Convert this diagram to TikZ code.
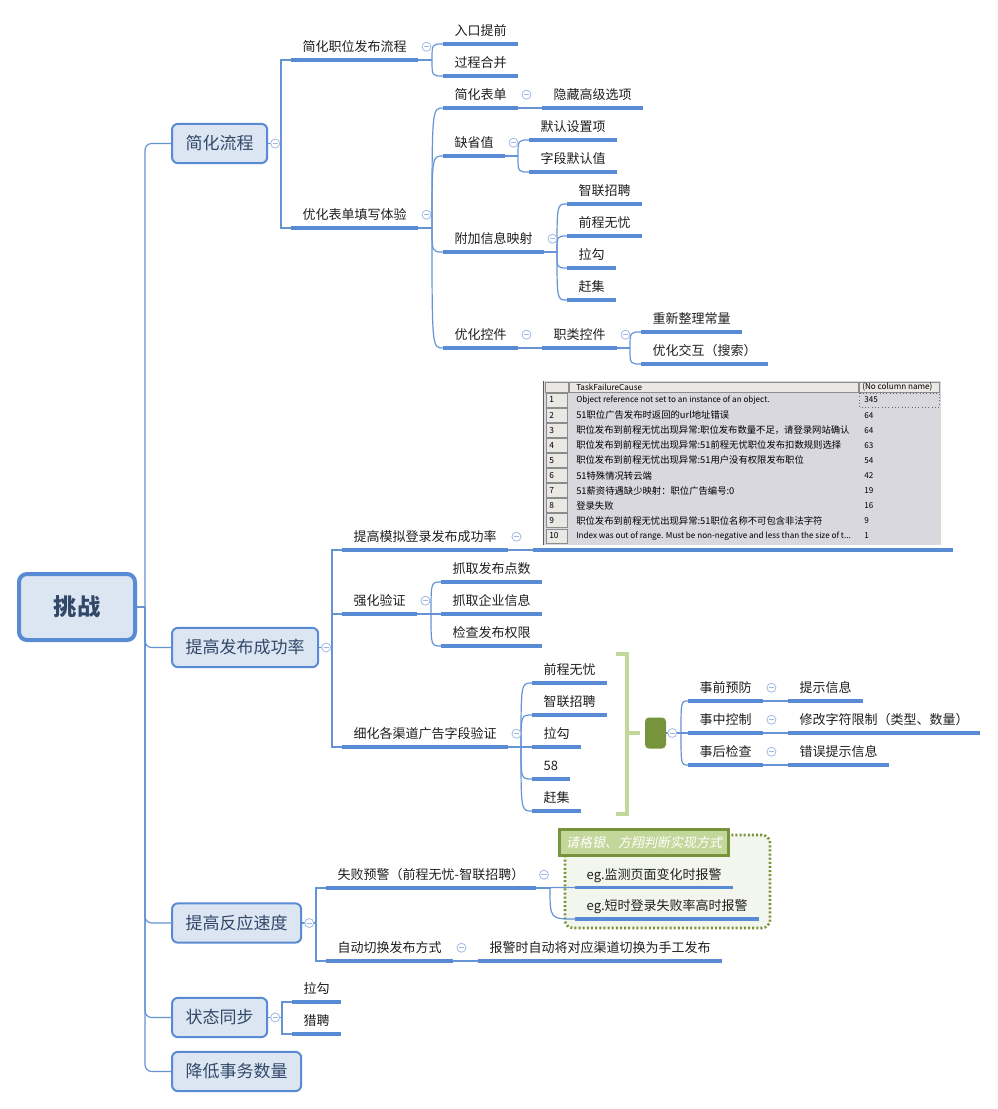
\documentclass[tikz,border=0pt]{standalone}
\usepackage{fontspec}
\setmainfont{Noto Sans CJK SC}
\newfontfamily\slfont[FakeSlant=0.2]{Noto Sans CJK SC}
\usetikzlibrary{calc}
\definecolor{linecol}{RGB}{88,139,212}
\definecolor{conncol}{RGB}{100,148,214}
\definecolor{boxfill}{RGB}{220,230,242}
\definecolor{maintext}{RGB}{50,72,105}
\definecolor{foldcol}{RGB}{160,185,230}
\definecolor{olive}{RGB}{119,147,60}
\definecolor{lolive}{RGB}{196,215,155}
\definecolor{bfill}{RGB}{243,246,236}
\definecolor{tabbg}{RGB}{216,216,222}
\definecolor{cellbg}{RGB}{234,232,228}
\newcommand\brc[2]{\draw[conn] (#1) .. controls (#1 |- #2.south west) .. (#2.south west);}
\begin{document}
\begin{tikzpicture}[x=0.75pt,y=-0.75pt,
  conn/.style={draw=conncol, line width=0.9pt},
  uline/.style={draw=linecol, line width=2.4pt},
  sub/.style={anchor=south west, inner xsep=8.6pt, inner ysep=4.875pt, text height=8.6pt, text depth=1.15pt, font=\fontsize{9.75pt}{12pt}\selectfont, text={black!88}},
  mainbox/.style={anchor=west, draw=linecol, line width=1.5pt, fill=boxfill, rounded corners=4.5pt, inner xsep=10.2pt, inner ysep=0pt, minimum height=29.5pt, text height=11.2pt, text depth=1.55pt, font=\fontsize{12.75pt}{15pt}\selectfont, text=maintext},
  rootbox/.style={draw=linecol, line width=3pt, fill=boxfill, rounded corners=6pt, minimum width=87pt, minimum height=49.5pt, font=\fontsize{17.5pt}{20pt}\selectfont\bfseries, text=maintext},
  fold/.style={circle, draw=foldcol, fill=white, line width=0.6pt, minimum size=6.75pt, inner sep=0pt, path picture={\draw[foldcol, line width=0.6pt] ($(path picture bounding box.center)+(-2.7,0)$) -- ($(path picture bounding box.center)+(2.7,0)$);}},
  sumbox/.style={fill=olive, rounded corners=3pt, minimum width=15.75pt, minimum height=23.25pt, inner sep=0pt},
  brk/.style={draw=lolive, line width=3.4pt},
  bound/.style={draw=olive, fill=bfill, line width=1.9pt, dash pattern=on 1.5pt off 1.6pt, rounded corners=6pt},
  blabel/.style={draw=olive, fill=lolive, line width=2.2pt, minimum width=127pt, minimum height=20pt, inner sep=0pt, text=white, font=\fontsize{9.75pt}{12pt}\slfont},
  tabcjk/.style={anchor=west, inner sep=0pt, font=\fontsize{7pt}{8pt}\selectfont},
  tablat/.style={anchor=west, inner sep=0pt, font=\fontsize{6.1pt}{8pt}\selectfont},
  tabcell/.style={draw=gray!90, line width=0.5pt, fill=cellbg}
]
\useasboundingbox (0,0) rectangle (997,1109);
\fill[white] (0,0) rectangle (997,1109);

% ---------- boundary (behind) ----------
\draw[bound] (565,835) rectangle (770,928);

% ---------- root & main topics ----------
\node[rootbox] (root) at (77,607) {挑战};
\node[mainbox] (t1) at (171,143.5) {简化流程};
\node[mainbox] (t2) at (171,647.5) {提高发布成功率};
\node[mainbox] (t3) at (171,923) {提高反应速度};
\node[mainbox] (t4) at (171,1017.5) {状态同步};
\node[mainbox] (t5) at (171,1071.5) {降低事务数量};

% ---------- branch 1 ----------
\node[sub] (s1) at (291,60) {简化职位发布流程};
\node[sub] (s2) at (291,228) {优化表单填写体验};
\node[sub] (s1a) at (443,44) {入口提前};
\node[sub] (s1b) at (443,76) {过程合并};
\node[sub] (s2a) at (443,108) {简化表单};
\node[sub] (s2a1) at (542,108) {隐藏高级选项};
\node[sub] (s2b) at (443,156) {缺省值};
\node[sub] (s2b1) at (529,140) {默认设置项};
\node[sub] (s2b2) at (529,172) {字段默认值};
\node[sub] (s2c) at (443,252) {附加信息映射};
\node[sub] (s2c1) at (567,204) {智联招聘};
\node[sub] (s2c2) at (567,236) {前程无忧};
\node[sub] (s2c3) at (567,268) {拉勾};
\node[sub] (s2c4) at (567,300) {赶集};
\node[sub] (s2d) at (443,348) {优化控件};
\node[sub] (s2d1) at (542,348) {职类控件};
\node[sub] (s2d1a) at (641,332) {重新整理常量};
\node[sub] (s2d1b) at (641,364) {优化交互（搜索）};

% ---------- branch 2 ----------
\node[sub] (m1) at (342,550) {提高模拟登录发布成功率};
\node[anchor=south west, minimum width=314.25pt, minimum height=127pt, inner sep=0pt] (tbl) at (533,550) {};
\node[sub] (m2) at (342,614) {强化验证};
\node[sub] (m2a) at (441,582) {抓取发布点数};
\node[sub] (m2b) at (441,614) {抓取企业信息};
\node[sub] (m2c) at (441,646) {检查发布权限};
\node[sub] (m3) at (342,747) {细化各渠道广告字段验证};
\node[sub] (m3a) at (532,683) {前程无忧};
\node[sub] (m3b) at (532,715) {智联招聘};
\node[sub] (m3c) at (532,747) {拉勾};
\node[sub] (m3d) at (532,779) {58};
\node[sub] (m3e) at (532,811) {赶集};
\node[sumbox] (sm) at (655.5,733) {};
\node[sub] (p1) at (688,701) {事前预防};
\node[sub] (p1a) at (788,701) {提示信息};
\node[sub] (p2) at (688,733) {事中控制};
\node[sub] (p2a) at (788,733) {修改字符限制（类型、数量）};
\node[sub] (p3) at (688,765) {事后检查};
\node[sub] (p3a) at (788,765) {错误提示信息};

% bracket (summary)
\draw[brk] (615.7,654) -- (627,654) -- (627,814) -- (615.7,814);
\draw[brk] (627,733) -- (640,733);

% ---------- table ----------
\fill[tabbg] (544,381) rectangle (941,545);
\draw[black!65, line width=0.9pt] (543.5,381) -- (543.5,545);
\draw[tabcell] (545,382) rectangle (568,392);
\draw[tabcell] (569,382) rectangle (858,392);
\draw[tabcell] (859,382) rectangle (939,392);
\node[tablat] (th1) at (576,387) {TaskFailureCause};
\node[tablat] (th2) at (862,387) {(No column name)};
\foreach \i/\yc in {1/400,2/415.1,3/430.2,4/445.3,5/460.4,6/475.5,7/490.6,8/505.7,9/520.8,10/535.9}{
  \draw[tabcell] (546,\yc-7) rectangle (567,\yc+7);
  \node[tablat, font=\fontsize{6.3pt}{8pt}\selectfont] (rn\i) at (549,\yc) {\i};
}
\draw[black!60, dotted, line width=0.5pt] (859,393) rectangle (939,407);
\node[tablat] (r1t) at (576,400) {Object reference not set to an instance of an object.};
\node[tabcjk] (r2t) at (576,415.1) {51职位广告发布时返回的url地址错误};
\node[tabcjk] (r3t) at (576,430.2) {职位发布到前程无忧出现异常:职位发布数量不足，请登录网站确认};
\node[tabcjk] (r4t) at (576,445.3) {职位发布到前程无忧出现异常:51前程无忧职位发布扣数规则选择};
\node[tabcjk] (r5t) at (576,460.4) {职位发布到前程无忧出现异常:51用户没有权限发布职位};
\node[tabcjk] (r6t) at (576,475.5) {51特殊情况转云端};
\node[tabcjk] (r7t) at (576,490.6) {51薪资待遇缺少映射：职位广告编号:0};
\node[tabcjk] (r8t) at (576,505.7) {登录失败};
\node[tabcjk] (r9t) at (576,520.8) {职位发布到前程无忧出现异常:51职位名称不可包含非法字符};
\node[tablat] (r10t) at (576,535.9) {Index was out of range. Must be non-negative and less than the size of t...};
\node[tablat] (r1n) at (864,400) {345};
\node[tablat] (r2n) at (864,415.1) {64};
\node[tablat] (r3n) at (864,430.2) {64};
\node[tablat] (r4n) at (864,445.3) {63};
\node[tablat] (r5n) at (864,460.4) {54};
\node[tablat] (r6n) at (864,475.5) {42};
\node[tablat] (r7n) at (864,490.6) {19};
\node[tablat] (r8n) at (864,505.7) {16};
\node[tablat] (r9n) at (864,520.8) {9};
\node[tablat] (r10n) at (864,535.9) {1};

% ---------- branch 3 ----------
\node[sub] (r1) at (326,888) {失败预警（前程无忧-智联招聘）};
\node[sub] (r1a) at (575,887.5) {eg.监测页面变化时报警};
\node[sub] (r1b) at (575,919) {eg.短时登录失败率高时报警};
\node[blabel] (lbl) at (644,842.5) {请格银、方翔判断实现方式};
\node[sub] (r2) at (326,961) {自动切换发布方式};
\node[sub] (r2a) at (478,961) {报警时自动将对应渠道切换为手工发布};

% ---------- branch 4 ----------
\node[sub] (q1) at (292,1002) {拉勾};
\node[sub] (q2) at (292,1034) {猎聘};

% ---------- underlines ----------
\foreach \n in {s1,s2,s1a,s1b,s2a,s2a1,s2b,s2b1,s2b2,s2c,s2c1,s2c2,s2c3,s2c4,s2d,s2d1,s2d1a,s2d1b,
  m1,tbl,m2,m2a,m2b,m2c,m3,m3a,m3b,m3c,m3d,m3e,p1,p1a,p2,p2a,p3,p3a,r1,r1a,r1b,r2,r2a,q1,q2}
  \draw[uline] (\n.south west) -- (\n.south east);

% ---------- connectors ----------
\coordinate (rj) at (145,607);
\draw[conn] (root.east) -- (rj);
\foreach \t in {t1,t2,t3,t4,t5}
  \draw[conn, rounded corners=5pt] (rj) |- (\t.west);

\coordinate (j1) at (281,143.5);
\draw[conn] (t1.east) -- (j1);
\draw[conn] (j1) |- (s1.south west);
\draw[conn] (j1) |- (s2.south west);

\coordinate (b1) at (432,60);
\draw[conn] (s1.south east) -- (b1);
\brc{b1}{s1a}\brc{b1}{s1b}
\coordinate (b2) at (432,228);
\draw[conn] (s2.south east) -- (b2);
\brc{b2}{s2a}\brc{b2}{s2b}\brc{b2}{s2c}\brc{b2}{s2d}
\draw[conn] (s2a.south east) -- (s2a1.south west);
\coordinate (b2b) at (518,156);
\draw[conn] (s2b.south east) -- (b2b);
\brc{b2b}{s2b1}\brc{b2b}{s2b2}
\coordinate (b2c) at (557,252);
\draw[conn] (s2c.south east) -- (b2c);
\brc{b2c}{s2c1}\brc{b2c}{s2c2}\brc{b2c}{s2c3}\brc{b2c}{s2c4}
\draw[conn] (s2d.south east) -- (s2d1.south west);
\coordinate (b2d) at (630,348);
\draw[conn] (s2d1.south east) -- (b2d);
\brc{b2d}{s2d1a}\brc{b2d}{s2d1b}

\coordinate (j2) at (332,647.5);
\draw[conn] (t2.east) -- (j2);
\draw[conn] (j2) |- (m1.south west);
\draw[conn] (j2) |- (m2.south west);
\draw[conn] (j2) |- (m3.south west);
\draw[conn] (m1.south east) -- (tbl.south west);
\coordinate (b3) at (431,614);
\draw[conn] (m2.south east) -- (b3);
\brc{b3}{m2a}\brc{b3}{m2b}\brc{b3}{m2c}
\coordinate (b4) at (521,747);
\draw[conn] (m3.south east) -- (b4);
\brc{b4}{m3a}\brc{b4}{m3b}\brc{b4}{m3c}\brc{b4}{m3d}\brc{b4}{m3e}
\coordinate (b5) at (681,733);
\draw[conn] (sm.east) -- (b5);
\brc{b5}{p1}\brc{b5}{p2}\brc{b5}{p3}
\draw[conn] (p1.south east) -- (p1a.south west);
\draw[conn] (p2.south east) -- (p2a.south west);
\draw[conn] (p3.south east) -- (p3a.south west);

\coordinate (j3) at (316,923);
\draw[conn] (t3.east) -- (j3);
\draw[conn] (j3) |- (r1.south west);
\draw[conn] (j3) |- (r2.south west);
\coordinate (b6) at (550,888);
\draw[conn] (r1.south east) -- (b6);
\brc{b6}{r1a}\brc{b6}{r1b}
\draw[conn] (r2.south east) -- (r2a.south west);

\coordinate (j4) at (282,1017.5);
\draw[conn] (t4.east) -- (j4);
\draw[conn] (j4) |- (q1.south west);
\draw[conn] (j4) |- (q2.south west);

% ---------- fold markers ----------
\foreach \t in {t1,t2,t3,t4}
  \node[fold] at ([xshift=5.25pt]\t.east) {};
\foreach \n in {s1,s2,s2a,s2b,s2c,s2d,s2d1,m1,m2,m3,p1,p2,p3,r1,r2}
  \node[fold] at ([xshift=6pt]\n.east) {};
\node[fold] at ([xshift=4.5pt]sm.east) {};
\end{tikzpicture}
\end{document}
